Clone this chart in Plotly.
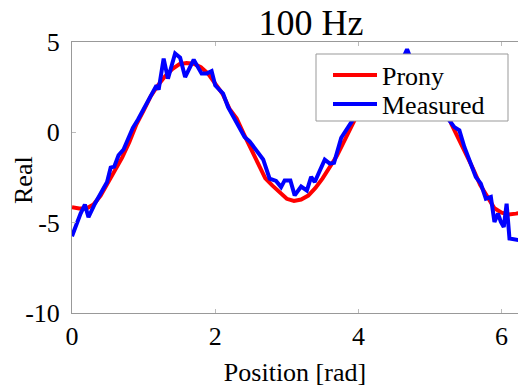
import plotly.graph_objects as go

# Prony fit (smooth)
prony_x = [0.0, 0.1, 0.2, 0.3, 0.4, 0.5, 0.6, 0.7, 0.8, 0.9, 1.0, 1.1, 1.2, 1.3, 1.4, 1.5,
           1.6, 1.7, 1.8, 1.9, 2.0, 2.1, 2.2, 2.3, 2.4, 2.5, 2.6, 2.7, 2.8, 2.9, 3.0, 3.1,
           3.2, 3.3, 3.4, 3.5, 3.6, 3.7, 3.8, 3.9, 4.0, 4.1, 4.2, 4.3, 4.4, 4.5, 4.6, 4.7,
           4.8, 4.9, 5.0, 5.1, 5.2, 5.3, 5.4, 5.5, 5.6, 5.7, 5.8, 5.9, 6.0, 6.1, 6.2, 6.28]
prony_y = [-4.15, -4.22, -4.22, -4.0, -3.5, -2.8, -2.1, -1.4, -0.55, 0.45, 1.2, 2.0, 2.6, 3.1, 3.5, 3.78,
           3.84, 3.8, 3.6, 3.25, 2.7, 2.15, 1.3, 0.76, -0.1, -0.9, -1.75, -2.55, -2.95, -3.35, -3.68, -3.8,
           -3.72, -3.5, -3.08, -2.55, -1.92, -1.3, -0.5, 0.35, 1.1, 1.8, 2.45, 2.95, 3.35, 3.65, 3.8, 3.85,
           3.75, 3.5, 3.0, 2.3, 1.5, 0.45, -0.35, -1.25, -2.0, -2.9, -3.55, -4.2, -4.45, -4.55, -4.5, -4.45]

# Measured (noisy)
meas_x = [0.0, 0.06, 0.12, 0.18, 0.23, 0.32, 0.43, 0.49, 0.54, 0.59, 0.65, 0.72, 0.78, 0.85, 0.92,
          1.02, 1.11, 1.18, 1.21, 1.28, 1.34, 1.44, 1.51, 1.58, 1.70, 1.81, 1.88, 1.95, 2.0, 2.11,
          2.18, 2.30, 2.41, 2.48, 2.58, 2.67, 2.76, 2.85, 2.92, 2.97, 3.05, 3.11, 3.20, 3.28, 3.34,
          3.39, 3.53, 3.60, 3.66, 3.76, 3.90, 4.0, 4.1, 4.2, 4.3, 4.4, 4.5, 4.6, 4.68, 4.75, 4.85,
          4.95, 5.05, 5.15, 5.27, 5.34, 5.41, 5.48, 5.57, 5.64, 5.71, 5.78, 5.85, 5.90, 5.95, 5.99,
          6.03, 6.07, 6.11, 6.22, 6.28]
meas_y = [-5.75, -5.05, -4.5, -4.0, -4.7, -3.95, -3.1, -2.75, -1.95, -1.9, -1.27, -0.95, -0.4, 0.25, 0.7,
          1.45, 2.14, 2.6, 2.36, 4.08, 2.97, 4.36, 4.13, 3.06, 4.02, 3.25, 3.25, 3.39, 2.6, 2.14,
          1.4, 0.57, -0.26, -0.5, -1.0, -1.5, -2.56, -2.69, -3.03, -2.66, -2.66, -3.49, -3.0, -3.22, -2.47,
          -2.75, -1.51, -1.73, -1.68, -0.3, 0.55, 1.3, 2.0, 2.5, 3.1, 3.4, 3.7, 3.9, 4.6, 3.9, 3.5,
          3.2, 2.4, 1.6, 0.66, 0.29, 0.11, -0.81, -1.73, -2.47, -2.84, -3.67, -3.58, -4.96, -4.5, -4.96,
          -5.24, -3.95, -5.88, -5.98, -6.0]

x_ticks = [0, 2, 4, 6]
y_ticks = [-10, -5, 0, 5]

FONT = "Liberation Serif, Times New Roman, Times, serif"

fig = go.Figure()
fig.add_trace(go.Scatter(x=prony_x, y=prony_y, mode="lines", name="Prony", legend="legend",
                         line=dict(color="#ff0000", width=4)))
fig.add_trace(go.Scatter(x=meas_x, y=meas_y, mode="lines", name="Measured", legend="legend2",
                         line=dict(color="#0000ff", width=4)))

W, H = 518, 387
L, T, B = 72, 42, 387 - 313
PW, PH = W - L, 313 - T


def px(xp):
    return (xp - L) / PW


def py(yp):
    return (313 - yp) / PH


leg_common = dict(xanchor="left", yanchor="middle", bgcolor="rgba(0,0,0,0)", borderwidth=0,
                  font=dict(family=FONT, size=26, color="black"), itemwidth=44)

fig.update_layout(
    width=W, height=H,
    margin=dict(l=L, r=0, t=T, b=B),
    paper_bgcolor="white", plot_bgcolor="white",
    font=dict(family=FONT, size=26, color="black"),
    title=dict(text="100 Hz", font=dict(family=FONT, size=36, color="black"),
               x=311 / W, xref="container", xanchor="center",
               y=1 - 22 / H, yref="container", yanchor="middle"),
    showlegend=True,
    legend=dict(x=px(328), y=py(75), **leg_common),
    legend2=dict(x=px(328), y=py(104), **leg_common),
    shapes=[dict(type="rect", xref="paper", yref="paper", layer="above",
                 x0=px(316), x1=px(508), y0=py(121), y1=py(54),
                 line=dict(color="#999999", width=1), fillcolor="white")],
    annotations=[dict(text="Real", textangle=-90, showarrow=False,
                      xref="paper", yref="paper", x=px(23), y=py(180),
                      xanchor="center", yanchor="middle",
                      font=dict(family=FONT, size=26, color="black"))],
)
fig.update_xaxes(range=[0, 6.229], tickvals=x_ticks, ticktext=[str(v) for v in x_ticks],
                 showgrid=False, zeroline=False, showline=True, linecolor="#999999", linewidth=1,
                 mirror="ticks", ticks="inside", ticklen=4, tickcolor="#bbbbbb",
                 ticklabelstandoff=0, automargin=False,
                 tickfont=dict(family=FONT, size=26, color="black"),
                 title=dict(text="Position [rad]",
                            font=dict(family=FONT, size=26, color="black")))
fig.update_yaxes(range=[-10, 5], tickvals=y_ticks, ticktext=[str(v) for v in y_ticks],
                 showgrid=False, zeroline=False, showline=True, linecolor="#999999", linewidth=1,
                 mirror=False, ticks="inside", ticklen=4, tickcolor="#bbbbbb",
                 ticklabelstandoff=6, automargin=False,
                 tickfont=dict(family=FONT, size=26, color="black"))

fig.write_html("out.html")
